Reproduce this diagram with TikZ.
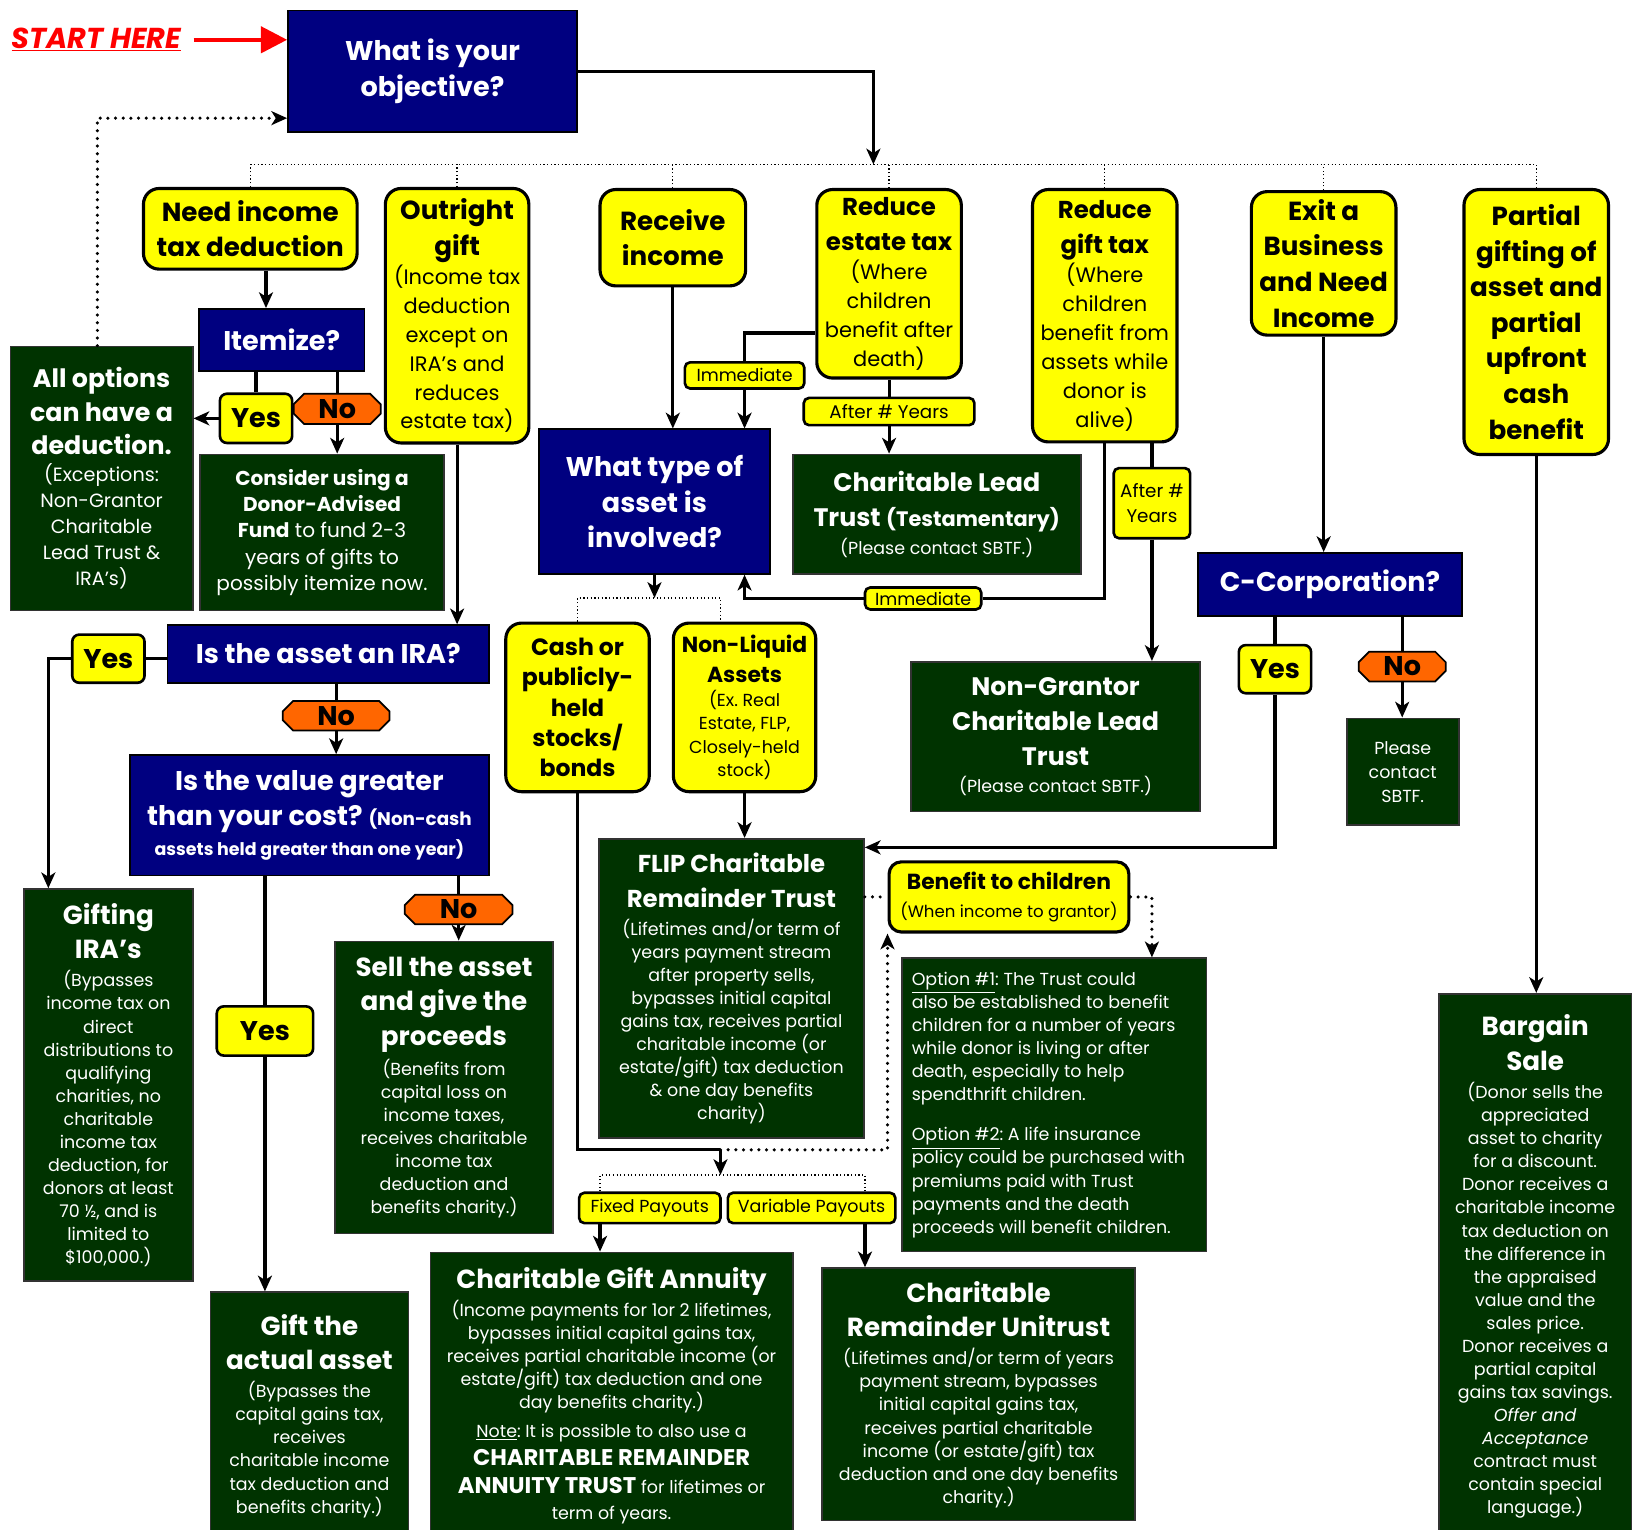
\documentclass[tikz,border=0pt]{standalone}
\usepackage{fontspec}
\setmainfont{Poppins}
\usetikzlibrary{arrows.meta,shapes.misc}
\frenchspacing

\definecolor{qnavy}{HTML}{000080}
\definecolor{qyellow}{HTML}{FFFF00}
\definecolor{qgreen}{HTML}{003300}
\definecolor{qorange}{HTML}{FF6600}

\newdimen\pxu \pxu=0.6pt

\newcommand{\qf}{\fontsize{15.5}{20.4}\selectfont\bfseries}
\newcommand{\yhf}{\fontsize{15}{20.4}\selectfont\bfseries}
\newcommand{\ybf}{\fontsize{12}{16.6}\selectfont\mdseries}
\newcommand{\hdf}{\fontsize{15}{19.8}\selectfont\bfseries}
\newcommand{\bdf}{\fontsize{10}{13.2}\selectfont\mdseries}
\newcommand{\lbf}{\fontsize{10}{12}\selectfont}

\tikzset{
  sz/.style 2 args={minimum width=#1\pxu, minimum height=#2\pxu, text width=#1\pxu},
  qbox/.style={draw=black, line width=1pt, fill=qnavy, text=white, font=\qf, align=flush center, inner sep=0pt},
  ybox/.style={draw=black, line width=1.8pt, fill=qyellow, rounded corners=9pt, font=\yhf, align=flush center, inner sep=0pt},
  gbox/.style={draw=black!80, line width=1pt, fill=qgreen, text=white, font=\bdf, align=flush center, inner sep=0pt},
  yesbox/.style={draw=black, line width=1.5pt, fill=qyellow, rounded corners=4pt, font=\fontsize{15.5}{18}\selectfont\bfseries, align=flush center, inner sep=0pt},
  nobox/.style={chamfered rectangle, chamfered rectangle xsep=3pt, chamfered rectangle ysep=3pt, draw=black, line width=1pt, fill=qorange, font=\fontsize{15.5}{18}\selectfont\bfseries, align=flush center, inner sep=0pt},
  tagbox/.style={draw=black, line width=1.5pt, fill=qyellow, rounded corners=3pt, font=\lbf, align=flush center, inner sep=0pt},
  conn/.style={line width=1.8pt},
  arrconn/.style={line width=1.8pt, -{Stealth[length=9pt,width=8pt,inset=2.5pt]}},
  dotbus/.style={line width=0.7pt, dash pattern=on 0.7pt off 1.4pt},
  dotconn/.style={line width=2pt, line cap=round, dash pattern=on 0pt off 4.4pt},
  dotarrow/.style={dotconn, -{Stealth[length=9pt,width=8pt,inset=2.5pt]}},
  startarr/.style={draw=red, line width=2.2pt, -{Triangle[length=15pt,width=15pt]}},
}

\begin{document}
\begin{tikzpicture}[x=0.6pt,y=-0.6pt]
\useasboundingbox (0,0) rectangle (1568,1461);
\clip (0,0) rectangle (1568,1461);
\fill[white] (0,0) rectangle (1568,1461);

\node[font=\fontsize{16.5}{20}\selectfont\bfseries\itshape, text=red, inner sep=0pt] (start) at (92,38) {\underline{START HERE}};
\node[qbox, sz={276}{116}] (obj) at (413,68) {What is your\\objective?};

\node[ybox, sz={204}{77}] (need) at (239,218.5) {Need income\\tax deduction};
\node[ybox, sz={137}{243}] (outr) at (436.5,301.5) {Outright\\gift\par{\ybf (Income tax\\deduction\\except on\\IRA’s and\\reduces\\estate tax)\par}};
\node[ybox, sz={139}{92}] (recv) at (642.5,227) {Receive\\income};
\node[ybox, sz={138}{180}, font=\fontsize{14}{20.4}\selectfont\bfseries] (estate) at (849,271) {Reduce\\estate tax\par{\ybf (Where\\children\\benefit after\\death)\par}};
\node[ybox, sz={138}{241}, font=\fontsize{14}{20.4}\selectfont\bfseries] (gifttax) at (1055,301.5) {Reduce\\gift tax\par{\ybf (Where\\children\\benefit from\\assets while\\donor is\\alive)\par}};
\node[ybox, sz={138}{137}] (exit) at (1264,251.5) {Exit a\\Business\\and Need\\Income};
\node[ybox, sz={138}{253}] (partial) at (1467,307.5) {Partial\\gifting of\\asset and\\partial\\upfront\\cash\\benefit};

\node[qbox, sz={158}{59}] (item) at (269,324.5) {Itemize?};
\node[yesbox, sz={69}{47}] (yes1) at (244.5,399.5) {Yes};
\node[nobox, sz={73}{29}] (no1) at (322,390.5) {No};
\node[gbox, sz={174}{252}] (allopt) at (97,457) {{\fontsize{14.5}{19.2}\selectfont\bfseries All options\\can have a\\deduction.\par}{\fontsize{11}{15}\selectfont (Exceptions:\\Non-Grantor\\Charitable\\Lead Trust \&\\IRA’s)\par}};
\node[gbox, sz={233}{149}, font=\fontsize{11.5}{15}\selectfont] (consider) at (307.5,508.5) {{\bfseries Consider using a\\Donor-Advised\\Fund} to fund 2-3\\years of gifts to\\possibly itemize now.};

\node[qbox, sz={307}{55}] (ira) at (313.5,624.5) {Is the asset an IRA?};
\node[yesbox, sz={69}{46}] (yes2) at (103.5,629) {Yes};
\node[nobox, sz={92}{27}] (no2) at (321,683.5) {No};
\node[qbox, sz={343}{115}] (value) at (295.5,778.5) {Is the value greater\\than your cost? {\fontsize{10.5}{12}\selectfont(Non-cash}\par{\fontsize{10}{16.8}\selectfont assets held greater than one year)\par}};
\node[yesbox, sz={92}{47}] (yes3) at (253,984.5) {Yes};
\node[nobox, sz={93}{27}] (no3) at (438,868.5) {No};
\node[gbox, sz={161}{374}] (giftira) at (103.5,1036) {{\hdf Gifting\\IRA’s\par}\vspace{3pt}{\bdf (Bypasses\\income tax on\\direct\\distributions to\\qualifying\\charities, no\\charitable\\income tax\\deduction, for\\donors at least\\70 ½, and is\\limited to\\\$100,000.)\par}};
\node[gbox, sz={208}{279}] (sell) at (424,1038.5) {{\hdf Sell the asset\\and give the\\proceeds\par}\vspace{3pt}{\bdf (Benefits from\\capital loss on\\income taxes,\\receives charitable\\income tax\\deduction and\\benefits charity.)\par}};
\node[gbox, sz={189}{236}] (actual) at (295.5,1352) {{\hdf Gift the\\actual asset\par}\vspace{3pt}{\bdf (Bypasses the\\capital gains tax,\\receives\\charitable income\\tax deduction and\\benefits charity.)\par}};

\node[qbox, sz={220}{138}] (what) at (625,479) {What type of\\asset is\\involved?};
\node[tagbox, sz={114}{25}] (imm1) at (711,358.5) {Immediate};
\node[tagbox, sz={163}{26}, font=\fontsize{10.5}{12}\selectfont] (after1) at (849,393) {After \# Years};
\node[gbox, sz={275}{114}] (clt) at (894.5,491) {{\fontsize{14.5}{20}\selectfont\bfseries Charitable Lead\\Trust {\fontsize{12}{14}\selectfont(Testamentary)}\par}\vspace{3pt}{\bdf (Please contact SBTF.)\par}};
\node[tagbox, sz={111}{21}] (imm2) at (881.5,571.5) {Immediate};
\node[tagbox, sz={73}{67}, font=\fontsize{10.5}{14.4}\selectfont] (after2) at (1100,480.5) {After \#\\Years};
\node[gbox, sz={276}{143}] (ngclt) at (1008,703.5) {{\fontsize{14.5}{20}\selectfont\bfseries Non-Grantor\\Charitable Lead\\Trust\par}\vspace{2pt}{\bdf (Please contact SBTF.)\par}};

\node[qbox, sz={252}{60}] (ccorp) at (1270,558) {C-Corporation?};
\node[yesbox, sz={69}{46}] (yes4) at (1217.5,639) {Yes};
\node[nobox, sz={73}{27}] (no4) at (1339,636.5) {No};
\node[gbox, sz={107}{102}, font=\fontsize{10}{13.8}\selectfont] (contact) at (1339.5,737) {Please\\contact\\SBTF.};
\node[gbox, sz={184}{521}] (bargain) at (1466,1209.5) {{\hdf Bargain\\Sale\par}\vspace{3pt}{\bdf (Donor sells the\\appreciated\\asset to charity\\for a discount.\\Donor receives a\\charitable income\\tax deduction on\\the difference in\\the appraised\\value and the\\sales price.\\Donor receives a\\partial capital\\gains tax savings.\\\textit{Offer and}\\\textit{Acceptance}\\contract must\\contain special\\language.)\par}};

\node[ybox, sz={137}{161}, font=\fontsize{13.5}{17.4}\selectfont\bfseries] (cash) at (551.5,675.5) {Cash or\\publicly-\\held\\stocks/\\bonds};
\node[ybox, sz={136}{161}] (nonliq) at (711,675.5) {{\fontsize{12.5}{17.4}\selectfont\bfseries Non-Liquid\\Assets\par}{\fontsize{10}{13.5}\selectfont\mdseries (Ex. Real\\Estate, FLP,\\Closely-held\\stock)\par}};
\node[gbox, sz={253}{286}] (flip) at (698.5,944) {{\fontsize{14}{19.8}\selectfont\bfseries FLIP Charitable\\Remainder Trust\par}\vspace{3pt}{\bdf (Lifetimes and/or term of\\years payment stream\\after property sells,\\bypasses initial capital\\gains tax, receives partial\\charitable income (or\\estate/gift) tax deduction\\\& one day benefits\\charity)\par}};
\node[ybox, sz={229}{67}, rounded corners=7pt] (benefit) at (963.5,856.5) {{\fontsize{12.5}{15}\selectfont\bfseries Benefit to children\par}{\fontsize{9.5}{16}\selectfont\mdseries (When income to grantor)\par}};
\node[gbox, sz={291}{280}, align=flush left, text width=163pt] (options) at (1006.5,1055) {\underline{Option \#1}: The Trust could\\also be established to benefit\\children for a number of years\\while donor is living or after\\death, especially to help\\spendthrift children.\par\vspace{10pt}\underline{Option \#2}: A life insurance\\policy could be purchased with\\premiums paid with Trust\\payments and the death\\proceeds will benefit children.};
\node[tagbox, sz={135}{29}] (fixed) at (620.5,1153.5) {Fixed Payouts};
\node[tagbox, sz={160}{29}] (variable) at (775,1153.5) {Variable Payouts};
\node[gbox, sz={346}{274}] (cga) at (584,1333) {{\hdf Charitable Gift Annuity\par}\vspace{2pt}{\bdf (Income payments for 1or 2 lifetimes,\\bypasses initial capital gains tax,\\receives partial charitable income (or\\estate/gift) tax deduction and one\\day benefits charity.)\par}\vspace{3pt}{\bdf\underline{Note}: It is possible to also use a\par}{\fontsize{13}{16.2}\selectfont\bfseries CHARITABLE REMAINDER\\ANNUITY TRUST {\bdf for lifetimes or}\par}{\fontsize{10}{15}\selectfont\mdseries term of years.\par}};
\node[gbox, sz={299}{241}] (crut) at (934.5,1331.5) {{\hdf Charitable\\Remainder Unitrust\par}\vspace{3pt}{\bdf (Lifetimes and/or term of years\\payment stream, bypasses\\initial capital gains tax,\\receives partial charitable\\income (or estate/gift) tax\\deduction and one day benefits\\charity.)\par}};

\coordinate (top) at (834,157);
\coordinate (tb) at (625,571);
\coordinate (jn) at (688,1098);
\coordinate (pb) at (688,1122);

\draw[startarr] ([xshift=7pt]start.east) -- (start -| obj.west);
\draw[arrconn] (obj.east) -| (top);
\draw[dotbus] (need.north |- top) -- (partial.north |- top);
\foreach \n in {need,outr,recv,estate,gifttax,exit,partial}
  \draw[dotbus] (\n.north) -- (\n.north |- top);
\draw[dotarrow] ([xshift=-2.4pt]allopt.north) |- ([yshift=8.4pt]obj.south west);
\draw[arrconn] ([xshift=9pt]need.south) -- ([xshift=9pt]need.south |- item.north);
\draw[conn] (item.south -| yes1.north) -- (yes1.north);
\draw[conn] (item.south -| no1.north) -- (no1.north);
\draw[arrconn] (yes1.west) -- (yes1.west -| allopt.east);
\draw[arrconn] (no1.south) -- (no1.south |- consider.north);
\draw[arrconn] (outr.south) -- (outr.south |- ira.north);
\draw[conn] (yes2.east) -- (yes2.east -| ira.west);
\draw[arrconn] (yes2.west) -| ([xshift=14.4pt]giftira.north west);
\draw[conn] (ira.south -| no2.north) -- (no2.north);
\draw[arrconn] (no2.south) -- (no2.south |- value.north);
\draw[conn] (value.south -| yes3.north) -- (yes3.north);
\draw[arrconn] (yes3.south) -- (yes3.south |- actual.north);
\draw[conn] (value.south -| no3.north) -- (no3.north);
\draw[arrconn] (no3.south) -- (no3.south |- sell.north);
\draw[arrconn] (recv.south) -- (recv.south |- what.north);
\draw[conn] ([yshift=-28.2pt]estate.west) -| (imm1.north);
\draw[arrconn] (imm1.south) -- (imm1.south |- what.north);
\draw[conn] (estate.south) -- (after1.north);
\draw[arrconn] (after1.south) -- (after1.south |- clt.north);
\draw[conn] (gifttax.south) |- (imm2.east);
\draw[arrconn] (imm2.west) -| (imm1.south |- what.south);
\draw[conn] (gifttax.south -| after2.north) -- (after2.north);
\draw[arrconn] (after2.south) -- (after2.south |- ngclt.north);
\draw[arrconn] (exit.south) -- (exit.south |- ccorp.north);
\draw[conn] (ccorp.south -| yes4.north) -- (yes4.north);
\draw[arrconn] (yes4.south) |- ([yshift=-5.4pt]flip.north east);
\draw[conn] (ccorp.south -| no4.north) -- (no4.north);
\draw[arrconn] (no4.south) -- (no4.south |- contact.north);
\draw[arrconn] (partial.south) -- (partial.south |- bargain.north);
\draw[arrconn] (what.south) -- (tb);
\draw[dotbus] (cash.north) |- (tb) -| ([xshift=-13.8pt]nonliq.north);
\draw[arrconn] (nonliq.south) -- (nonliq.south |- flip.north);
\draw[conn] (cash.south) |- (jn);
\draw[arrconn] (jn) -- (pb);
\draw[dotconn] (benefit.west -| flip.east) -- (benefit.west);
\draw[dotarrow] (jn) -| (benefit.south west);
\draw[dotarrow] (benefit.east) -| ([xshift=56.1pt]options.north);
\draw[dotbus] ([xshift=-28.5pt]fixed.north) |- (pb) -| ([xshift=30.6pt]variable.north);
\draw[arrconn] ([xshift=-28.5pt]fixed.south) -- ([xshift=-28.5pt]fixed.south |- cga.north);
\draw[arrconn] ([xshift=30.6pt]variable.south) -- ([xshift=30.6pt]variable.south |- crut.north);

\end{tikzpicture}
\end{document}
